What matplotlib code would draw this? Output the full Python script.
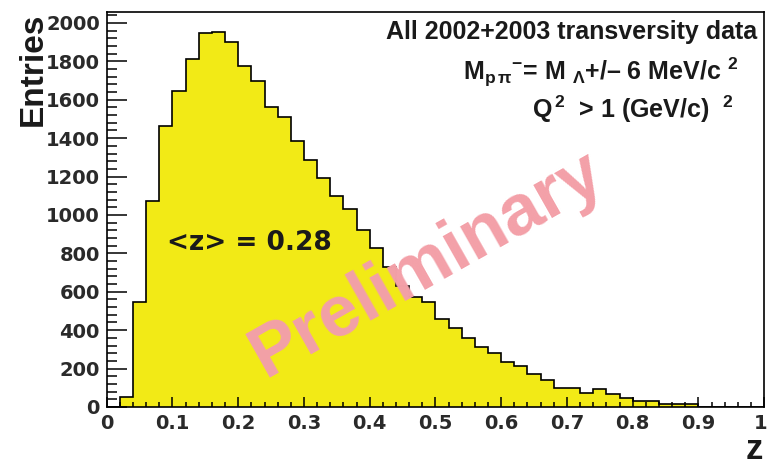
import numpy as np
import matplotlib
matplotlib.use("Agg")
import matplotlib.pyplot as plt
import matplotlib.transforms as mtransforms
from matplotlib.ticker import MultipleLocator, FixedLocator, FixedFormatter

plt.rcParams["font.family"] = ["Liberation Sans", "DejaVu Sans"]
plt.rcParams["font.weight"] = "bold"
plt.rcParams["mathtext.fontset"] = "custom"
plt.rcParams["mathtext.rm"] = "Liberation Sans:bold"
plt.rcParams["mathtext.it"] = "Liberation Sans:bold"
plt.rcParams["mathtext.bf"] = "Liberation Sans:bold"

# z distribution, 50 bins of width 0.02 on [0, 1]
bin_lo, bin_hi, n_bins = 0.0, 1.0, 50
counts = [0, 54, 548, 1073, 1464, 1647, 1811, 1946, 1955, 1899,
          1778, 1700, 1564, 1509, 1385, 1286, 1191, 1100, 1030, 922,
          826, 730, 628, 572, 548, 456, 410, 357, 313, 282,
          235, 212, 174, 143, 101, 101, 75, 92, 70, 49,
          30, 30, 18, 18, 18, 0, 0, 0, 0, 0]
mean_z = 0.28

xtick_values = [0.0, 0.1, 0.2, 0.3, 0.4, 0.5, 0.6, 0.7, 0.8, 0.9, 1.0]
xtick_labels = ["0", "0.1", "0.2", "0.3", "0.4", "0.5", "0.6", "0.7", "0.8", "0.9", "1"]
ytick_values = [0, 200, 400, 600, 800, 1000, 1200, 1400, 1600, 1800, 2000]

edges = np.linspace(bin_lo, bin_hi, n_bins + 1)

fig = plt.figure(figsize=(7.68, 4.67), dpi=100)
ax = fig.add_axes([0.139, 0.1285, 0.856, 0.8465])

yellow = "#f2ea16"
ax.stairs(counts, edges, fill=True, color=yellow, zorder=1)
ax.stairs(counts, edges, color="black", linewidth=1.2, zorder=2)

ax.set_xlim(bin_lo, bin_hi)
ax.set_ylim(0, 1.053 * max(counts))

for s in ax.spines.values():
    s.set_linewidth(1.2)
    s.set_zorder(5)

ax.xaxis.set_major_locator(FixedLocator(xtick_values))
ax.xaxis.set_major_formatter(FixedFormatter(xtick_labels))
ax.xaxis.set_minor_locator(MultipleLocator(0.02))
ax.yaxis.set_major_locator(FixedLocator(ytick_values))
ax.yaxis.set_minor_locator(MultipleLocator(40))

ax.tick_params(axis="x", which="major", direction="in", length=7.5, width=1.1,
               labelsize=14, pad=5)
ax.tick_params(axis="x", which="minor", direction="in", length=3.3, width=1.1)
ax.tick_params(axis="y", which="major", direction="in", length=14.5, width=1.1,
               labelsize=14, pad=5)
ax.tick_params(axis="y", which="minor", direction="in", length=7.2, width=1.1)
ax.tick_params(top=False, right=False, which="both")
for lab in ax.get_xticklabels() + ax.get_yticklabels():
    lab.set_fontfamily("DejaVu Sans")
    lab.set_fontweight("bold")
    lab.set_color("#2a2a2a")

# keep the last x label inside the canvas
last = ax.get_xticklabels()[-1]
last.set_horizontalalignment("right")
last.set_transform(last.get_transform() +
                   mtransforms.ScaledTranslation(3 / 100, 0, fig.dpi_scale_trans))

# axis titles at the ends of the axes
fig.text(0.0235, 0.973, "Entries", rotation=90, ha="left", va="top",
         fontsize=24, fontweight="bold", color="#1a1a1a")
fig.text(0.994, 0.002, "z", ha="right", va="bottom",
         fontsize=25, fontweight="bold", color="#1a1a1a")

# mean value
ax.text(0.091, 854, "<z> = %.2f" % mean_z, ha="left", va="center",
        fontsize=19, fontweight="bold", family="DejaVu Sans",
        color="#1a1a1a", zorder=4)

# selection text, upper right
sel_kw = dict(transform=ax.transAxes, ha="right", va="baseline", fontsize=18,
              fontweight="bold", color="#1a1a1a")
ax.text(0.989, 0.931, "All 2002+2003 transversity data", **sel_kw)
ax.text(0.960, 0.827, r"M$_{\mathrm{p\,π}}$$^{-}$= M $_{Λ}$+/– 6 MeV/c $^{2}$",
        **sel_kw)
ax.text(0.953, 0.731, r"Q$^{\,2}$  > 1 (GeV/c)  $^{2}$", **sel_kw)

# watermark
fig.text(0.555, 0.434, "Preliminary", rotation=29.5, ha="center", va="center",
         fontsize=52, fontweight="bold", color="#f3a0a8", zorder=3,
         rotation_mode="anchor")

fig.savefig("out.png", dpi=100, facecolor="white")
